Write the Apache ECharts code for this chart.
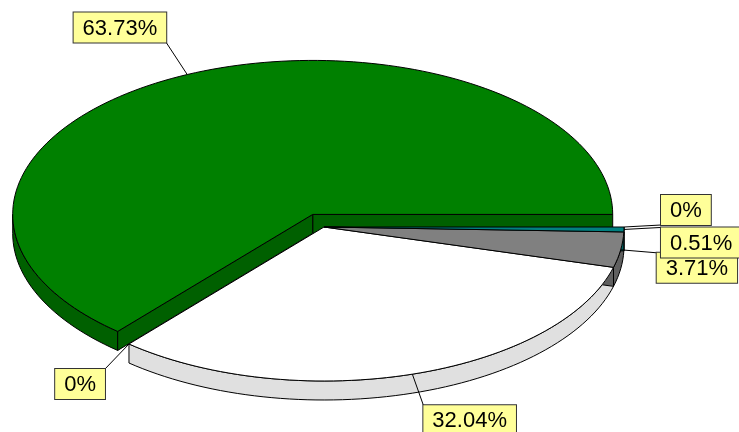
<!DOCTYPE html>
<html>
<head>
<meta charset="utf-8">
<script src="https://cdn.jsdelivr.net/npm/echarts@6/dist/echarts.min.js"></script>
<style>
  html, body { margin: 0; padding: 0; background: #fff; }
  #chart { width: 739px; height: 432px; }
</style>
</head>
<body>
<div id="chart"></div>
<script>
// slice data, counter-clockwise from 3 o'clock
const sliceNames = ['Slice 1', 'Slice 2', 'Slice 3', 'Slice 4', 'Slice 5', 'Slice 6'];
const sliceValues = [63.73, 0, 32.04, 3.71, 0.51, 0];
const sliceLabels = ['63.73%', '0%', '32.04%', '3.71%', '0.51%', '0%'];

const topColors = ['#008000', '#c0c0c0', '#ffffff', '#808080', '#008080', '#c0c0c0'];
const sideColors = ['#006000', '#a0a0a0', '#e0e0e0', '#606060', '#006060', '#a0a0a0'];
const explode = [0.09, 0, 0, 0, 0, 0];
// label box anchor offsets from the rim point: dx, dy, align, verticalAlign
const labelOffsets = [
  [-21, -32, 'right', 'bottom'],
  [-24, 25, 'right', 'top'],
  [11, 31, 'left', 'top'],
  [36, 3, 'left', 'top'],
  [37, -2, 'left', 'top'],
  [37, -2, 'left', 'bottom']
];

const CX = 324, CY = 227, RX = 300, RY = 154, DEPTH = 19;
const total = sliceValues.reduce((s, v) => s + v, 0);
const starts = [];
let acc = 0;
sliceValues.forEach(v => { starts.push(acc / total * Math.PI * 2); acc += v; });

const chart = echarts.init(document.getElementById('chart'));

function arc(cx, cy, a, b, dy) {
  const pts = [];
  const n = Math.max(2, Math.ceil(Math.abs(b - a) / 0.03));
  for (let k = 0; k <= n; k++) {
    const t = a + (b - a) * k / n;
    pts.push([cx + RX * Math.cos(t), cy - RY * Math.sin(t) + dy]);
  }
  return pts;
}

function renderItem(params, api) {
  const i = params.dataIndex;
  const v = api.value(0);
  const a0 = starts[i];
  const a1 = a0 + v / total * Math.PI * 2;
  const mid = (a0 + a1) / 2;
  const k = explode[i];
  const cx = CX + RX * k * Math.cos(mid);
  const cy = CY - RY * k * Math.sin(mid);
  const base = k > 0 ? 0 : 1;
  const edgeStyle = { stroke: '#000', lineWidth: 1 };
  const children = [];

  if (v > 0) {
    // outer wall, only the front half is seen
    const s = Math.max(a0, Math.PI), e = Math.min(a1, Math.PI * 2);
    if (e > s) {
      const pts = arc(cx, cy, s, e, 0).concat(arc(cx, cy, e, s, DEPTH));
      children.push({ type: 'polygon', z2: 1 + base, shape: { points: pts },
        style: Object.assign({ fill: sideColors[i] }, edgeStyle) });
    }
    // radial cut faces
    [[a0, Math.cos(a0) > 0], [a1, Math.cos(a1) < 0]].forEach(([a, show]) => {
      if (!show) return;
      const ex = cx + RX * Math.cos(a), ey = cy - RY * Math.sin(a);
      children.push({ type: 'polygon', z2: 1 + base,
        shape: { points: [[cx, cy], [ex, ey], [ex, ey + DEPTH], [cx, cy + DEPTH]] },
        style: Object.assign({ fill: sideColors[i] }, edgeStyle) });
    });
    // top face
    children.push({ type: 'polygon', z2: 9 + base,
      shape: { points: [[cx, cy]].concat(arc(cx, cy, a0, a1, 0)) },
      style: Object.assign({ fill: topColors[i] }, edgeStyle) });
  }

  // label with leader line
  const px = cx + RX * Math.cos(mid), py = cy - RY * Math.sin(mid);
  const off = labelOffsets[i];
  const lx = px + off[0], ly = py + off[1];
  children.push({ type: 'line', z2: 50, shape: { x1: px, y1: py, x2: lx, y2: ly },
    style: { stroke: '#000', lineWidth: 1 } });
  children.push({ type: 'text', z2: 100 + i, x: lx, y: ly,
    style: {
      text: sliceLabels[i],
      font: '22px "Liberation Sans", Arial, sans-serif',
      fill: '#000',
      align: off[2],
      verticalAlign: off[3],
      backgroundColor: '#ffff99',
      borderColor: '#333',
      borderWidth: 1,
      padding: [5, 9, 3, 9]
    } });

  return { type: 'group', children: children };
}

const option = {
  animation: false,
  backgroundColor: '#fff',
  series: [{
    type: 'custom',
    coordinateSystem: 'none',
    renderItem: renderItem,
    data: sliceValues.map((v, i) => ({ name: sliceNames[i], value: [v] }))
  }]
};

chart.setOption(option);
</script>
</body>
</html>
